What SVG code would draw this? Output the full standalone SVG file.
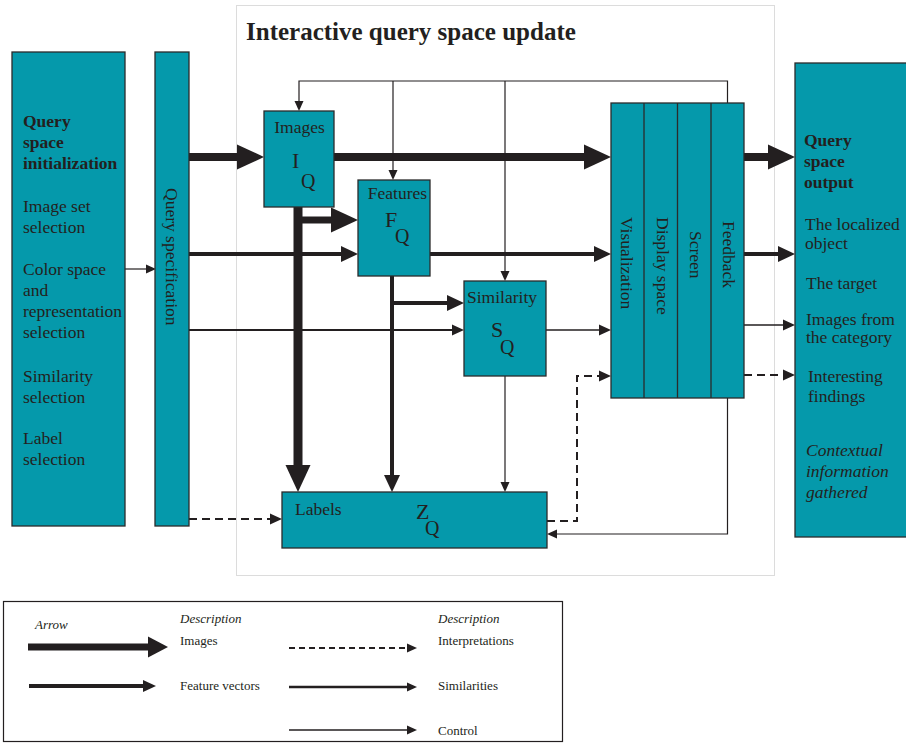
<svg xmlns="http://www.w3.org/2000/svg" width="906" height="743" viewBox="0 0 906 743">
  <style>
    text { font-family: "Liberation Serif", "Times New Roman", serif; fill: #231f20; }
    .box { fill: #0599ab; stroke: #2b2b2b; stroke-width: 1.3; }
    .frame { fill: none; stroke: #dcdcdc; stroke-width: 1; }
    .legend { fill: #ffffff; stroke: #231f20; stroke-width: 1.2; }
    .t { font-size: 17.5px; }
    .b { font-size: 17.5px; font-weight: bold; }
    .i { font-size: 17.5px; font-style: italic; }
    .sym { font-size: 22px; }
    .sub { font-size: 20px; }
    .lg { font-size: 13px; }
    .lgi { font-size: 13px; font-style: italic; }
    .c { fill: none; stroke: #231f20; }
    .img { stroke-width: 8; marker-end: url(#mImg); }
    .feat { stroke-width: 4; marker-end: url(#mFeat); }
    .sim { stroke-width: 2; marker-end: url(#mSim); }
    .ctl { stroke-width: 1.2; marker-end: url(#mCtl); }
    .dash { stroke-width: 2; stroke-dasharray: 8 5; marker-end: url(#mSim); }
  </style>
  <defs>
    <!-- arrowheads: path ends at the base, head extends forward to the tip -->
    <marker id="mImg" markerUnits="userSpaceOnUse" markerWidth="27" markerHeight="26" refX="0" refY="13" orient="auto" overflow="visible">
      <path d="M0,0.5 L27,13 L0,25.5 Z" fill="#231f20"/>
    </marker>
    <marker id="mImgS" markerUnits="userSpaceOnUse" markerWidth="20" markerHeight="22" refX="0" refY="11" orient="auto" overflow="visible">
      <path d="M0,0.5 L20,11 L0,21.5 Z" fill="#231f20"/>
    </marker>
    <marker id="mFeat" markerUnits="userSpaceOnUse" markerWidth="17" markerHeight="16" refX="0" refY="8" orient="auto" overflow="visible">
      <path d="M0,0 L17,8 L0,16 Z" fill="#231f20"/>
    </marker>
    <marker id="mFeatS" markerUnits="userSpaceOnUse" markerWidth="13" markerHeight="12" refX="0" refY="6" orient="auto" overflow="visible">
      <path d="M0,0 L13,6 L0,12 Z" fill="#231f20"/>
    </marker>
    <marker id="mSim" markerUnits="userSpaceOnUse" markerWidth="12" markerHeight="12" refX="0" refY="6" orient="auto" overflow="visible">
      <path d="M0,0.5 L12,6 L0,11.5 Z" fill="#231f20"/>
    </marker>
    <marker id="mCtl" markerUnits="userSpaceOnUse" markerWidth="10" markerHeight="10" refX="0" refY="5" orient="auto" overflow="visible">
      <path d="M0,0.5 L10,5 L0,9.5 Z" fill="#231f20"/>
    </marker>
  </defs>

  <rect width="906" height="743" fill="#ffffff"/>

  <!-- frame of the interactive part -->
  <g id="update-frame">
    <rect class="frame" x="236.5" y="5.5" width="538" height="570"/>
    <text x="246" y="40" style="font-size:25px;font-weight:bold">Interactive query space update</text>
  </g>

  <!-- connectors -->
  <g id="connectors">
    <!-- images -->
    <path class="c img" d="M189,157 H237"/>
    <path class="c img" d="M334,157 H584"/>
    <path class="c img" d="M298,207 V465" style="stroke-width:9"/>
    <path class="c img" d="M302,220 H331" style="stroke-width:7"/>
    <path class="c img" d="M744,157 H768"/>
    <!-- feature vectors -->
    <path class="c feat" d="M189,254 H341"/>
    <path class="c feat" d="M430,254 H594"/>
    <path class="c feat" d="M392,276 V475"/>
    <path class="c feat" d="M394,303 H447"/>
    <path class="c feat" d="M744,254 H778"/>
    <!-- similarities -->
    <path class="c sim" d="M189,330 H452"/>
    <path class="c sim" d="M546,330 H599" style="stroke-width:1.6"/>
    <path class="c sim" d="M744,325 H783" style="stroke-width:1.6"/>
    <!-- control -->
    <path class="c ctl" d="M125,269 H146"/>
    <path class="c ctl" d="M727.5,103 V81 H299 V101"/>
    <path class="c ctl" d="M393,81 V170"/>
    <path class="c ctl" d="M505,81 V271"/>
    <path class="c ctl" d="M505,376 V482"/>
    <path class="c ctl" d="M727.5,398 V534 H557"/>
    <!-- interpretations -->
    <path class="c dash" d="M189,519 H270"/>
    <path class="c dash" d="M547,521 H577 V376 H599"/>
    <path class="c dash" d="M744,375 H783"/>
  </g>

  <!-- query space initialization -->
  <g id="init">
    <rect class="box" x="12" y="52" width="113" height="474"/>
    <text class="b" x="23" y="127">Query</text>
    <text class="b" x="23" y="148">space</text>
    <text class="b" x="23" y="169">initialization</text>
    <text class="t" x="23" y="212">Image set</text>
    <text class="t" x="23" y="233">selection</text>
    <text class="t" x="23" y="275">Color space</text>
    <text class="t" x="23" y="296">and</text>
    <text class="t" x="23" y="317">representation</text>
    <text class="t" x="23" y="338">selection</text>
    <text class="t" x="23" y="382">Similarity</text>
    <text class="t" x="23" y="403">selection</text>
    <text class="t" x="23" y="444">Label</text>
    <text class="t" x="23" y="465">selection</text>
  </g>

  <g id="query-spec">
    <rect class="box" x="155" y="52" width="34" height="474"/>
    <text class="t" transform="translate(166,188) rotate(90)">Query specification</text>
  </g>

  <g id="images">
    <rect class="box" x="264" y="111" width="70" height="96"/>
    <text class="t" x="299.5" y="133" text-anchor="middle">Images</text>
    <text class="sym" x="292" y="168">I</text>
    <text class="sub" x="301" y="188">Q</text>
  </g>

  <g id="features">
    <rect class="box" x="358" y="180" width="72" height="96"/>
    <text class="t" x="397.5" y="199" text-anchor="middle">Features</text>
    <text class="sym" x="385" y="227">F</text>
    <text class="sub" x="395" y="243">Q</text>
  </g>

  <g id="similarity">
    <rect class="box" x="464" y="281" width="82" height="95"/>
    <text class="t" x="502" y="303" text-anchor="middle">Similarity</text>
    <text class="sym" x="491" y="337">S</text>
    <text class="sub" x="500" y="354">Q</text>
  </g>

  <g id="labels">
    <rect class="box" x="282" y="492" width="265" height="56"/>
    <text class="t" x="295" y="515">Labels</text>
    <text class="sym" x="416" y="519">Z</text>
    <text class="sub" x="425" y="535">Q</text>
  </g>

  <g id="visualization">
    <rect class="box" x="611" y="103" width="133" height="295"/>
    <line x1="644" y1="103" x2="644" y2="398" stroke="#2b2b2b" stroke-width="1.3"/>
    <line x1="677.5" y1="103" x2="677.5" y2="398" stroke="#2b2b2b" stroke-width="1.3"/>
    <line x1="711" y1="103" x2="711" y2="398" stroke="#2b2b2b" stroke-width="1.3"/>
    <text class="t" transform="translate(621,217) rotate(90)">Visualization</text>
    <text class="t" transform="translate(657,217) rotate(90)">Display space</text>
    <text class="t" transform="translate(690,231) rotate(90)">Screen</text>
    <text class="t" transform="translate(723,221) rotate(90)">Feedback</text>
  </g>

  <g id="output">
    <rect class="box" x="795" y="63" width="120" height="474"/>
    <text class="b" x="804" y="146">Query</text>
    <text class="b" x="804" y="167">space</text>
    <text class="b" x="804" y="188">output</text>
    <text class="t" x="805" y="230">The localized</text>
    <text class="t" x="805" y="249">object</text>
    <text class="t" x="806" y="289">The target</text>
    <text class="t" x="806" y="325">Images from</text>
    <text class="t" x="806" y="343">the category</text>
    <text class="t" x="808" y="382">Interesting</text>
    <text class="t" x="808" y="402">findings</text>
    <text class="i" x="806" y="456">Contextual</text>
    <text class="i" x="806" y="477">information</text>
    <text class="i" x="806" y="498">gathered</text>
  </g>

  <!-- key -->
  <g id="key">
    <rect class="legend" x="3.5" y="601.5" width="559" height="140"/>
    <text class="lgi" x="35" y="629">Arrow</text>
    <text class="lgi" x="180" y="623">Description</text>
    <text class="lg" x="180" y="645">Images</text>
    <text class="lg" x="180" y="690">Feature vectors</text>
    <text class="lgi" x="438" y="623">Description</text>
    <text class="lg" x="438" y="645">Interpretations</text>
    <text class="lg" x="438" y="690">Similarities</text>
    <text class="lg" x="438" y="735">Control</text>
    <path class="c" d="M28,647 H148" style="stroke-width:7;marker-end:url(#mImgS)"/>
    <path class="c" d="M29,686 H143" style="stroke-width:4;marker-end:url(#mFeatS)"/>
    <path class="c" d="M289,648 H407" style="stroke-width:2;stroke-dasharray:6 4;marker-end:url(#mCtl)"/>
    <path class="c" d="M289,687 H407" style="stroke-width:2.5;marker-end:url(#mCtl)"/>
    <path class="c" d="M289,730 H407" style="stroke-width:1.5;marker-end:url(#mCtl)"/>
  </g>
</svg>
